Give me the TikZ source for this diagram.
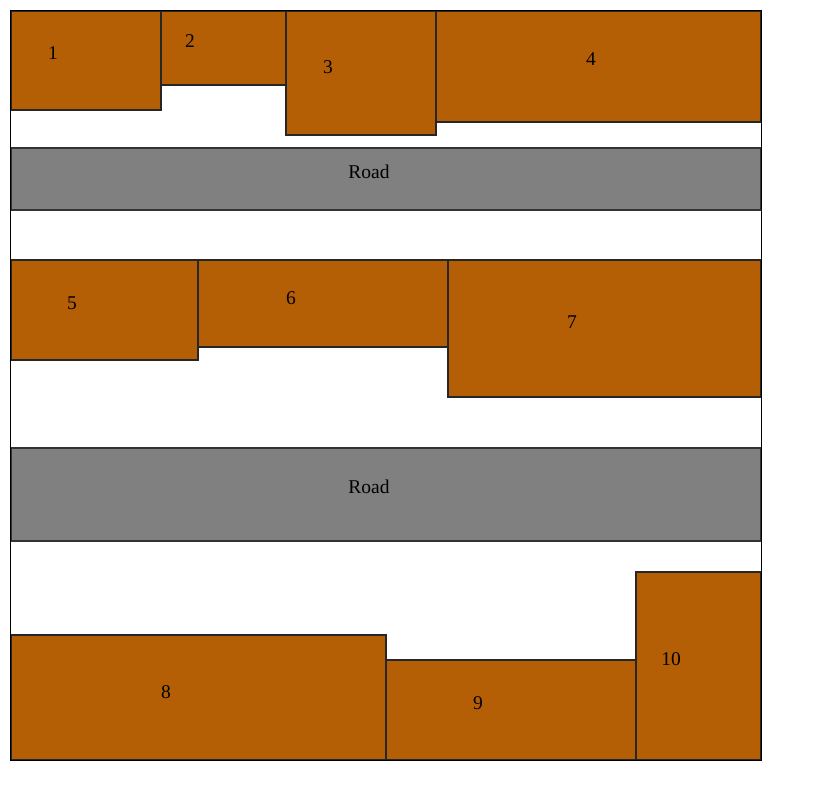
\documentclass[tikz,border=0pt]{standalone}
\usepackage{fontspec}
\setmainfont{Liberation Serif}
\usepackage{tikz}
\usetikzlibrary{positioning}

\definecolor{lotbrown}{RGB}{180,95,6}
\definecolor{roadgray}{RGB}{128,128,128}

\begin{document}
\begin{tikzpicture}[x=1pt, y=-1pt]

		\tikzstyle{lot} = [draw=black!85, fill=lotbrown, line width=1.4pt]
		\tikzstyle{road} = [draw=black!80, fill=roadgray, line width=1.4pt]
		\tikzstyle{tag} = [inner sep=0pt, font=\fontsize{19.5}{23}\selectfont]

		\useasboundingbox (0,0) rectangle (813,785);

		% Define roads
		\draw[road] (11,148) rectangle (761,210);
		\draw[road] (11,448) rectangle (761,541);

		% Define lots
		\draw[lot] (11,11) rectangle (161,110);
		\draw[lot] (161,11) rectangle (286,85);
		\draw[lot] (286,11) rectangle (436,135);
		\draw[lot] (436,11) rectangle (761,122);
		\draw[lot] (11,260) rectangle (198,360);
		\draw[lot] (198,260) rectangle (448,347);
		\draw[lot] (448,260) rectangle (761,397);
		\draw[lot] (11,635) rectangle (386,760);
		\draw[lot] (386,660) rectangle (636,760);
		\draw[lot] (636,572) rectangle (761,760);

		% Outer frame
		\draw[line width=1.6pt] (10.5,10.5) rectangle (761.5,760.5);

		% Labels
		\node[tag] (roadA) at (369,172) {Road};
		\node[tag] (roadB) at (369,487) {Road};
		\node[tag] (lot1) at (53,53) {1};
		\node[tag] (lot2) at (190,41) {2};
		\node[tag] (lot3) at (328,67) {3};
		\node[tag] (lot4) at (591,59) {4};
		\node[tag] (lot5) at (72,303) {5};
		\node[tag] (lot6) at (291,298) {6};
		\node[tag] (lot7) at (572,322) {7};
		\node[tag] (lot8) at (166,692) {8};
		\node[tag] (lot9) at (478,703) {9};
		\node[tag] (lot10) at (671,659) {10};

	\end{tikzpicture}
\end{document}
